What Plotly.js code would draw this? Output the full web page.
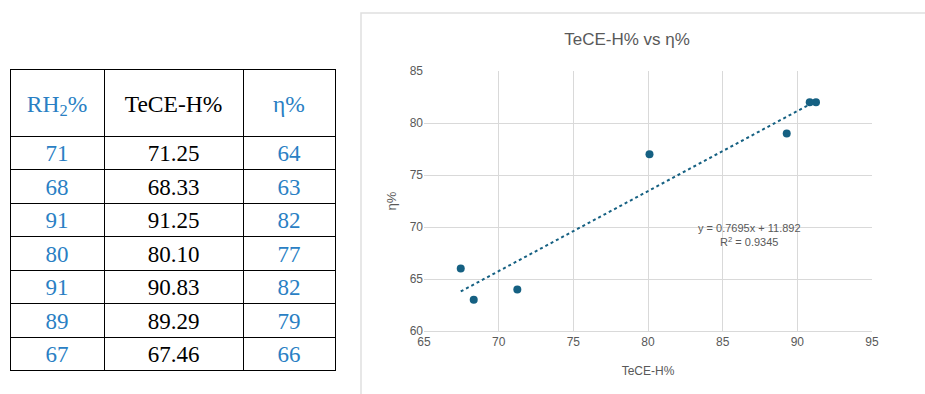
<!DOCTYPE html>
<html><head><meta charset="utf-8">
<script src="https://cdn.plot.ly/plotly-3.0.1.min.js"></script>
<style>body{margin:0;background:#fff}#c{width:925px;height:394px}</style>
</head><body><div id="c"></div>
<script>
// Data
const rh2 = [71, 68, 91, 80, 91, 89, 67];
const teceH = [71.25, 68.33, 91.25, 80.10, 90.83, 89.29, 67.46];
const eta = [64, 63, 82, 77, 82, 79, 66];
const headers = ['RH<sub>2</sub>%', 'TeCE-H%', 'η%'];
const slope = 0.7695, intercept = 11.892, r2 = 0.9345;
const xTicks = [65, 70, 75, 80, 85, 90, 95];
const yTicks = [60, 65, 70, 75, 80, 85];

const W = 925, H = 394;
const blue = '#2a7fc4', mark = '#156082', grey = '#595959', grid = '#d9d9d9';

const xMin = Math.min(...teceH), xMax = Math.max(...teceH);
const trendX = [xMin, xMax];
const trendY = trendX.map(v => slope * v + intercept);

// a tiny white spacer line above each header pushes the header text down to the middle of the tall cell
const headerText = headers.map(h => '<span style="font-size:5px;color:#ffffff">.</span><br>' + h);

const table = {
  type: 'table',
  domain: {x: [10 / W, 335 / W], y: [(H - 374) / H, (H - 69) / H]},
  columnwidth: [94, 139, 92],
  header: {
    values: headerText,
    align: 'center',
    height: 67,
    line: {color: '#000', width: 1},
    fill: {color: '#fff'},
    font: {family: 'Liberation Serif', size: 23.5, color: [blue, '#000', blue]}
  },
  cells: {
    values: [rh2, teceH, eta],
    format: ['', '.2f', ''],
    align: 'center',
    height: 33.5,
    line: {color: '#000', width: 1},
    fill: {color: '#fff'},
    font: {family: 'Liberation Serif', size: 23, color: [blue, '#000', blue]}
  }
};

const pts = {
  type: 'scatter', mode: 'markers', x: teceH, y: eta,
  marker: {color: mark, size: 8}, showlegend: false, hoverinfo: 'skip'
};
const trend = {
  type: 'scatter', mode: 'lines', x: trendX, y: trendY,
  line: {color: mark, width: 2, dash: 'dot'}, showlegend: false, hoverinfo: 'skip'
};

const font = 'Liberation Sans, Arial, sans-serif';
const layout = {
  width: W, height: H,
  margin: {l: 0, r: 0, t: 0, b: 0},
  paper_bgcolor: '#fff', plot_bgcolor: '#fff',
  showlegend: false,
  title: {text: 'TeCE-H% vs η%', x: 627 / W, xanchor: 'center', y: 1 - 39 / H, yanchor: 'middle',
    font: {family: font, size: 17, color: grey}},
  xaxis: {
    domain: [424 / W, 872 / W], range: [65, 95], tickvals: xTicks, ticks: '',
    showgrid: true, gridcolor: grid, gridwidth: 1, zeroline: false,
    showline: true, linecolor: grid, linewidth: 1,
    tickfont: {family: font, size: 12, color: grey},
    title: {text: 'TeCE-H%', font: {family: font, size: 12, color: grey}, standoff: 18},
    automargin: false
  },
  yaxis: {
    domain: [(H - 331) / H, (H - 71) / H], range: [60, 85], tickvals: yTicks, ticks: '',
    showgrid: true, gridcolor: grid, gridwidth: 1, zeroline: false, showline: false,
    tickfont: {family: font, size: 12, color: grey},
    title: {text: 'η%', font: {family: font, size: 13, color: grey}, standoff: 10},
    automargin: false
  },
  annotations: [{
    x: 86.83, y: 69.2, xref: 'x', yref: 'y', showarrow: false,
    text: 'y = ' + slope + 'x + ' + intercept + '<br>R<sup>2</sup> = ' + r2,
    align: 'center', font: {family: font, size: 11, color: grey}
  }],
  shapes: [{
    type: 'rect', xref: 'paper', yref: 'paper',
    x0: 361 / W, x1: 930 / W, y0: -10 / H, y1: (H - 13) / H,
    line: {color: '#e0e0e0', width: 1.5}, fillcolor: 'rgba(0,0,0,0)', layer: 'below'
  }]
};

Plotly.newPlot('c', [table, trend, pts], layout, {displayModeBar: false, staticPlot: true});
</script></body></html>
